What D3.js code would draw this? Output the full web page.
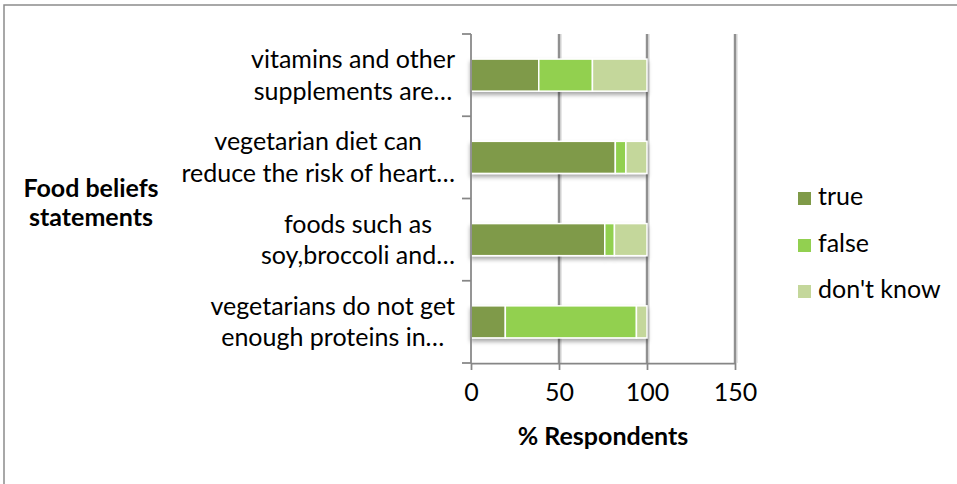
<!DOCTYPE html>
<html><head><meta charset="utf-8">
<script src="https://cdn.jsdelivr.net/npm/d3@7"></script>
<style>body{margin:0;background:#fff}svg{display:block}text{font-family:Lato,"Open Sans",sans-serif;fill:#000}</style>
</head><body>
<script>
const categories = [
  ["vitamins and other", "supplements are…"],
  ["vegetarian diet can", "reduce the risk of heart…"],
  ["foods such as", "soy,broccoli and…"],
  ["vegetarians do not get", "enough proteins in…"]
];
const seriesNames = ["true", "false", "don't know"];
const trueVals = [38.5, 82, 76, 19.5];
const falseVals = [30.5, 6, 5.5, 74.5];
const dkVals = [31, 12, 18.5, 6];
const xTicks = [0, 50, 100, 150];
const colors = ["#7f9a48", "#92d050", "#c4d79b"];

const W = 957, H = 484, FS = 25;
const svg = d3.select("body").append("svg").attr("width", W).attr("height", H);
const defs = svg.append("defs");
const f = defs.append("filter").attr("id","sh").attr("x","-10%").attr("y","-30%").attr("width","120%").attr("height","180%");
f.append("feDropShadow").attr("dx",0).attr("dy",3).attr("stdDeviation",2).attr("flood-color","#000").attr("flood-opacity",0.35);

// outer border (partially visible)
svg.append("path").attr("d","M4,484 L4,5 L957,5").attr("fill","none").attr("stroke","#8c8c8c").attr("stroke-width",1.5);

const x = d3.scaleLinear().domain([0,150]).range([471,735]);
const keys = categories.map((c,i)=>i);
const y = d3.scaleBand().domain(keys).range([34,363]).paddingInner(0.61).paddingOuter(0.305);

// grid lines (soft halo + line)
const gg = svg.append("g");
gg.selectAll("line.h").data(xTicks.slice(1)).join("line").attr("class","h")
  .attr("x1",d=>x(d)+0.5).attr("x2",d=>x(d)+0.5).attr("y1",34).attr("y2",363)
  .attr("stroke","#d0d0d0").attr("stroke-width",4);
gg.selectAll("line.g").data(xTicks.slice(1)).join("line").attr("class","g")
  .attr("x1",d=>x(d)).attr("x2",d=>x(d)).attr("y1",34).attr("y2",363)
  .attr("stroke","#878787").attr("stroke-width",1.75);

// stacked data
const rows = keys.map(i=>({i, "true":trueVals[i], "false":falseVals[i], "don't know":dkVals[i]}));
const stack = d3.stack().keys(seriesNames)(rows);
const gb = svg.append("g").attr("filter","url(#sh)");
stack.forEach((s,si)=>{
  gb.append("g").selectAll("rect").data(s).join("rect")
    .attr("x",d=>x(d[0])).attr("width",d=>x(d[1])-x(d[0]))
    .attr("y",d=>y(d.data.i)).attr("height",y.bandwidth())
    .attr("fill",colors[si]).attr("stroke","#fff").attr("stroke-width",1.5);
});

// axes
const ax = svg.append("g").attr("transform","translate(0,363)")
  .call(d3.axisBottom(x).tickValues(xTicks).tickSize(7).tickSizeOuter(0).tickPadding(13));
ax.select(".domain").attr("stroke","#868686").attr("stroke-width",1.75);
ax.selectAll(".tick line").attr("stroke","#868686").attr("stroke-width",1.75);
ax.selectAll(".tick text").attr("font-size",FS).attr("font-family","Lato").attr("fill","#000");

const step = y.step();
const bounds = keys.map(i=>y(i)-step*y.paddingInner()/2).concat([363]);
svg.append("line").attr("x1",471).attr("x2",471).attr("y1",34).attr("y2",363).attr("stroke","#868686").attr("stroke-width",1.75);
svg.append("g").selectAll("line").data(bounds).join("line")
  .attr("x1",462).attr("x2",471).attr("y1",d=>d).attr("y2",d=>d).attr("stroke","#868686").attr("stroke-width",1.75);

// category labels
const lg = svg.append("g");
categories.forEach((lines,i)=>{
  const cy = y(i)+y.bandwidth()/2;
  const t = lg.append("g");
  const ts = lines.map((ln,k)=>t.append("text").attr("y",cy-7+k*31.5).attr("font-size",FS).attr("text-anchor","middle").text(ln));
  const mw = d3.max(ts, s=>s.node().getComputedTextLength());
  ts.forEach(s=>s.attr("x",455-mw/2));
});

// titles
svg.append("text").attr("x",603).attr("y",445).attr("text-anchor","middle").attr("font-size",FS).attr("font-weight","bold").text("% Respondents");
svg.append("text").attr("x",91).attr("y",197).attr("text-anchor","middle").attr("font-size",FS).attr("font-weight","bold").text("Food beliefs");
svg.append("text").attr("x",91).attr("y",226).attr("text-anchor","middle").attr("font-size",FS).attr("font-weight","bold").text("statements");

// legend
const legY = [205, 252, 298];
seriesNames.forEach((n,i)=>{
  svg.append("rect").attr("x",798).attr("y",legY[i]-13).attr("width",13).attr("height",13).attr("fill",colors[i]);
  svg.append("text").attr("x",818).attr("y",legY[i]).attr("font-size",FS).text(n);
});
</script>
</body></html>
